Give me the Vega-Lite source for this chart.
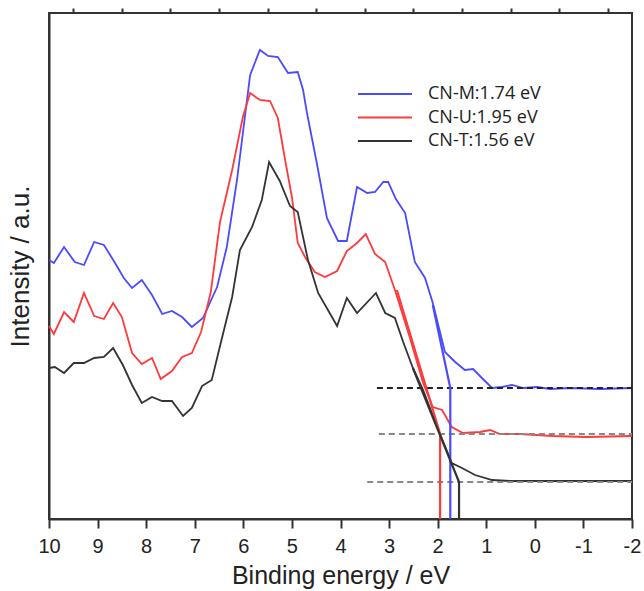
{
  "$schema": "https://vega.github.io/schema/vega-lite/v6.json",
  "width": 583,
  "height": 506,
  "autosize": {"type": "none"},
  "padding": {"left": 49, "top": 13, "right": 12, "bottom": 72},
  "background": "white",
  "config": {
    "view": {"stroke": "#333", "strokeWidth": 2},
    "axis": {
      "domainColor": "#333", "domainWidth": 2, "tickColor": "#333", "tickWidth": 2,
      "grid": false, "labelFont": "Liberation Sans", "titleFont": "Liberation Sans",
      "labelColor": "#222", "titleColor": "#222", "titleFontWeight": "normal"
    }
  },
  "datasets": {
    "spectra": [
      {"s": "CN-M:1.74 eV", "E": 10.0, "I": 259}, {"s": "CN-M:1.74 eV", "E": 9.90, "I": 256}, {"s": "CN-M:1.74 eV", "E": 9.69, "I": 272}, {"s": "CN-M:1.74 eV", "E": 9.47, "I": 257}, {"s": "CN-M:1.74 eV", "E": 9.28, "I": 254}, {"s": "CN-M:1.74 eV", "E": 9.07, "I": 277}, {"s": "CN-M:1.74 eV", "E": 8.87, "I": 274}, {"s": "CN-M:1.74 eV", "E": 8.64, "I": 256}, {"s": "CN-M:1.74 eV", "E": 8.46, "I": 241}, {"s": "CN-M:1.74 eV", "E": 8.29, "I": 231}, {"s": "CN-M:1.74 eV", "E": 8.09, "I": 239}, {"s": "CN-M:1.74 eV", "E": 7.88, "I": 224}, {"s": "CN-M:1.74 eV", "E": 7.67, "I": 205}, {"s": "CN-M:1.74 eV", "E": 7.47, "I": 208}, {"s": "CN-M:1.74 eV", "E": 7.26, "I": 202}, {"s": "CN-M:1.74 eV", "E": 7.06, "I": 192}, {"s": "CN-M:1.74 eV", "E": 6.83, "I": 201}, {"s": "CN-M:1.74 eV", "E": 6.54, "I": 232}, {"s": "CN-M:1.74 eV", "E": 6.34, "I": 272}, {"s": "CN-M:1.74 eV", "E": 6.13, "I": 339}, {"s": "CN-M:1.74 eV", "E": 5.86, "I": 444}, {"s": "CN-M:1.74 eV", "E": 5.66, "I": 469}, {"s": "CN-M:1.74 eV", "E": 5.49, "I": 463}, {"s": "CN-M:1.74 eV", "E": 5.29, "I": 462}, {"s": "CN-M:1.74 eV", "E": 5.08, "I": 446}, {"s": "CN-M:1.74 eV", "E": 4.88, "I": 447}, {"s": "CN-M:1.74 eV", "E": 4.77, "I": 429}, {"s": "CN-M:1.74 eV", "E": 4.69, "I": 406}, {"s": "CN-M:1.74 eV", "E": 4.48, "I": 354}, {"s": "CN-M:1.74 eV", "E": 4.28, "I": 301}, {"s": "CN-M:1.74 eV", "E": 4.05, "I": 278}, {"s": "CN-M:1.74 eV", "E": 3.87, "I": 278}, {"s": "CN-M:1.74 eV", "E": 3.66, "I": 332}, {"s": "CN-M:1.74 eV", "E": 3.45, "I": 326}, {"s": "CN-M:1.74 eV", "E": 3.29, "I": 327}, {"s": "CN-M:1.74 eV", "E": 3.12, "I": 337}, {"s": "CN-M:1.74 eV", "E": 3.02, "I": 337}, {"s": "CN-M:1.74 eV", "E": 2.86, "I": 320}, {"s": "CN-M:1.74 eV", "E": 2.67, "I": 306}, {"s": "CN-M:1.74 eV", "E": 2.47, "I": 257}, {"s": "CN-M:1.74 eV", "E": 2.26, "I": 241}, {"s": "CN-M:1.74 eV", "E": 2.10, "I": 216}, {"s": "CN-M:1.74 eV", "E": 1.85, "I": 167}, {"s": "CN-M:1.74 eV", "E": 1.64, "I": 157}, {"s": "CN-M:1.74 eV", "E": 1.44, "I": 149}, {"s": "CN-M:1.74 eV", "E": 1.27, "I": 150}, {"s": "CN-M:1.74 eV", "E": 1.09, "I": 141}, {"s": "CN-M:1.74 eV", "E": 0.88, "I": 131}, {"s": "CN-M:1.74 eV", "E": 0.68, "I": 132}, {"s": "CN-M:1.74 eV", "E": 0.47, "I": 134}, {"s": "CN-M:1.74 eV", "E": 0.24, "I": 131}, {"s": "CN-M:1.74 eV", "E": -0.05, "I": 132}, {"s": "CN-M:1.74 eV", "E": -0.31, "I": 130}, {"s": "CN-M:1.74 eV", "E": -0.72, "I": 131}, {"s": "CN-M:1.74 eV", "E": -1.34, "I": 130}, {"s": "CN-M:1.74 eV", "E": -2.0, "I": 131},
      {"s": "CN-U:1.95 eV", "E": 10.0, "I": 193}, {"s": "CN-U:1.95 eV", "E": 9.90, "I": 185}, {"s": "CN-U:1.95 eV", "E": 9.69, "I": 207}, {"s": "CN-U:1.95 eV", "E": 9.49, "I": 197}, {"s": "CN-U:1.95 eV", "E": 9.28, "I": 226}, {"s": "CN-U:1.95 eV", "E": 9.07, "I": 203}, {"s": "CN-U:1.95 eV", "E": 8.87, "I": 200}, {"s": "CN-U:1.95 eV", "E": 8.68, "I": 216}, {"s": "CN-U:1.95 eV", "E": 8.50, "I": 202}, {"s": "CN-U:1.95 eV", "E": 8.29, "I": 166}, {"s": "CN-U:1.95 eV", "E": 8.09, "I": 155}, {"s": "CN-U:1.95 eV", "E": 7.88, "I": 161}, {"s": "CN-U:1.95 eV", "E": 7.70, "I": 140}, {"s": "CN-U:1.95 eV", "E": 7.47, "I": 148}, {"s": "CN-U:1.95 eV", "E": 7.26, "I": 162}, {"s": "CN-U:1.95 eV", "E": 7.06, "I": 166}, {"s": "CN-U:1.95 eV", "E": 6.87, "I": 187}, {"s": "CN-U:1.95 eV", "E": 6.67, "I": 227}, {"s": "CN-U:1.95 eV", "E": 6.48, "I": 297}, {"s": "CN-U:1.95 eV", "E": 6.23, "I": 349}, {"s": "CN-U:1.95 eV", "E": 6.01, "I": 402}, {"s": "CN-U:1.95 eV", "E": 5.86, "I": 426}, {"s": "CN-U:1.95 eV", "E": 5.66, "I": 419}, {"s": "CN-U:1.95 eV", "E": 5.45, "I": 418}, {"s": "CN-U:1.95 eV", "E": 5.29, "I": 401}, {"s": "CN-U:1.95 eV", "E": 5.14, "I": 359}, {"s": "CN-U:1.95 eV", "E": 5.00, "I": 322}, {"s": "CN-U:1.95 eV", "E": 4.88, "I": 276}, {"s": "CN-U:1.95 eV", "E": 4.73, "I": 262}, {"s": "CN-U:1.95 eV", "E": 4.53, "I": 247}, {"s": "CN-U:1.95 eV", "E": 4.32, "I": 242}, {"s": "CN-U:1.95 eV", "E": 4.07, "I": 248}, {"s": "CN-U:1.95 eV", "E": 3.87, "I": 268}, {"s": "CN-U:1.95 eV", "E": 3.66, "I": 276}, {"s": "CN-U:1.95 eV", "E": 3.48, "I": 285}, {"s": "CN-U:1.95 eV", "E": 3.29, "I": 265}, {"s": "CN-U:1.95 eV", "E": 3.08, "I": 257}, {"s": "CN-U:1.95 eV", "E": 2.88, "I": 229}, {"s": "CN-U:1.95 eV", "E": 2.57, "I": 181}, {"s": "CN-U:1.95 eV", "E": 2.30, "I": 136}, {"s": "CN-U:1.95 eV", "E": 2.10, "I": 112}, {"s": "CN-U:1.95 eV", "E": 1.91, "I": 109}, {"s": "CN-U:1.95 eV", "E": 1.71, "I": 92}, {"s": "CN-U:1.95 eV", "E": 1.48, "I": 86}, {"s": "CN-U:1.95 eV", "E": 1.13, "I": 87}, {"s": "CN-U:1.95 eV", "E": 0.92, "I": 89}, {"s": "CN-U:1.95 eV", "E": 0.72, "I": 85}, {"s": "CN-U:1.95 eV", "E": 0.31, "I": 85}, {"s": "CN-U:1.95 eV", "E": -0.37, "I": 83}, {"s": "CN-U:1.95 eV", "E": -1.07, "I": 82}, {"s": "CN-U:1.95 eV", "E": -2.0, "I": 83},
      {"s": "CN-T:1.56 eV", "E": 10.0, "I": 151}, {"s": "CN-T:1.56 eV", "E": 9.88, "I": 152}, {"s": "CN-T:1.56 eV", "E": 9.69, "I": 146}, {"s": "CN-T:1.56 eV", "E": 9.49, "I": 156}, {"s": "CN-T:1.56 eV", "E": 9.28, "I": 156}, {"s": "CN-T:1.56 eV", "E": 9.07, "I": 161}, {"s": "CN-T:1.56 eV", "E": 8.87, "I": 162}, {"s": "CN-T:1.56 eV", "E": 8.68, "I": 171}, {"s": "CN-T:1.56 eV", "E": 8.48, "I": 154}, {"s": "CN-T:1.56 eV", "E": 8.29, "I": 134}, {"s": "CN-T:1.56 eV", "E": 8.09, "I": 116}, {"s": "CN-T:1.56 eV", "E": 7.88, "I": 122}, {"s": "CN-T:1.56 eV", "E": 7.67, "I": 118}, {"s": "CN-T:1.56 eV", "E": 7.47, "I": 118}, {"s": "CN-T:1.56 eV", "E": 7.24, "I": 103}, {"s": "CN-T:1.56 eV", "E": 7.06, "I": 111}, {"s": "CN-T:1.56 eV", "E": 6.85, "I": 133}, {"s": "CN-T:1.56 eV", "E": 6.65, "I": 139}, {"s": "CN-T:1.56 eV", "E": 6.44, "I": 181}, {"s": "CN-T:1.56 eV", "E": 6.23, "I": 222}, {"s": "CN-T:1.56 eV", "E": 6.07, "I": 269}, {"s": "CN-T:1.56 eV", "E": 5.82, "I": 292}, {"s": "CN-T:1.56 eV", "E": 5.62, "I": 319}, {"s": "CN-T:1.56 eV", "E": 5.47, "I": 357}, {"s": "CN-T:1.56 eV", "E": 5.25, "I": 338}, {"s": "CN-T:1.56 eV", "E": 5.04, "I": 313}, {"s": "CN-T:1.56 eV", "E": 4.88, "I": 307}, {"s": "CN-T:1.56 eV", "E": 4.67, "I": 259}, {"s": "CN-T:1.56 eV", "E": 4.46, "I": 226}, {"s": "CN-T:1.56 eV", "E": 4.07, "I": 193}, {"s": "CN-T:1.56 eV", "E": 3.87, "I": 221}, {"s": "CN-T:1.56 eV", "E": 3.66, "I": 206}, {"s": "CN-T:1.56 eV", "E": 3.27, "I": 226}, {"s": "CN-T:1.56 eV", "E": 3.08, "I": 206}, {"s": "CN-T:1.56 eV", "E": 2.88, "I": 201}, {"s": "CN-T:1.56 eV", "E": 2.71, "I": 177}, {"s": "CN-T:1.56 eV", "E": 2.51, "I": 151}, {"s": "CN-T:1.56 eV", "E": 2.30, "I": 129}, {"s": "CN-T:1.56 eV", "E": 2.01, "I": 92}, {"s": "CN-T:1.56 eV", "E": 1.71, "I": 56}, {"s": "CN-T:1.56 eV", "E": 1.50, "I": 51}, {"s": "CN-T:1.56 eV", "E": 1.23, "I": 44}, {"s": "CN-T:1.56 eV", "E": 0.88, "I": 39}, {"s": "CN-T:1.56 eV", "E": 0.51, "I": 38}, {"s": "CN-T:1.56 eV", "E": -2.0, "I": 38}
    ],
    "fits": [
      {"s": "CN-M:1.74 eV", "k": 0, "E": 2.10, "I": 214}, {"s": "CN-M:1.74 eV", "k": 1, "E": 1.74, "I": 131}, {"s": "CN-M:1.74 eV", "k": 2, "E": 1.74, "I": 0},
      {"s": "CN-U:1.95 eV", "k": 0, "E": 2.84, "I": 229}, {"s": "CN-U:1.95 eV", "k": 1, "E": 1.95, "I": 85}, {"s": "CN-U:1.95 eV", "k": 2, "E": 1.95, "I": 0},
      {"s": "CN-T:1.56 eV", "k": 0, "E": 2.51, "I": 151}, {"s": "CN-T:1.56 eV", "k": 1, "E": 1.56, "I": 37}, {"s": "CN-T:1.56 eV", "k": 2, "E": 1.56, "I": 0}
    ],
    "baselines": [
      {"b": "M", "tone": "dark", "E": 3.25, "I": 131}, {"b": "M", "tone": "dark", "E": -2.0, "I": 131},
      {"b": "U", "tone": "gray", "E": 3.21, "I": 85}, {"b": "U", "tone": "gray", "E": -2.0, "I": 85},
      {"b": "T", "tone": "gray", "E": 3.45, "I": 37}, {"b": "T", "tone": "gray", "E": -2.0, "I": 37}
    ]
  },
  "layer": [
    {
      "data": {"name": "spectra"},
      "mark": {"type": "line", "strokeWidth": 1.8},
      "encoding": {
        "x": {"field": "E", "type": "quantitative", "scale": {"domain": [-2, 10], "reverse": true, "nice": false, "zero": false},
              "axis": {"values": [10, 9, 8, 7, 6, 5, 4, 3, 2, 1, 0, -1, -2], "tickSize": 9, "labelFontSize": 20, "labelPadding": 8, "labelFlush": false, "labelOverlap": false,
                       "labelExpr": "datum.value < 0 ? '-' + abs(datum.value) : '' + datum.value",
                       "title": "Binding energy / eV", "titleFontSize": 25, "titlePadding": 7}},
        "y": {"field": "I", "type": "quantitative", "scale": {"domain": [0, 506], "nice": false, "zero": false},
              "axis": {"ticks": false, "labels": false, "title": "Intensity / a.u.", "titleFontSize": 26, "titlePadding": 16}},
        "color": {"field": "s", "type": "nominal",
                  "scale": {"domain": ["CN-M:1.74 eV", "CN-U:1.95 eV", "CN-T:1.56 eV"], "range": ["#4a4aff", "#ff3a3a", "#333333"]},
                  "legend": {"orient": "none", "legendX": 327, "legendY": 72, "title": null, "symbolType": "M-5,0H5", "symbolSize": 117,
                             "symbolStrokeWidth": 2, "labelFont": "Open Sans", "labelFontSize": 18, "labelColor": "#222", "labelOffset": 34,
                             "rowPadding": 5.5, "padding": 0}}
      }
    },
    {
      "data": {"name": "baselines"},
      "mark": {"type": "line", "strokeWidth": 1.8, "strokeDash": [6, 4]},
      "encoding": {
        "x": {"field": "E", "type": "quantitative",
              "axis": {"values": [9.5, 8.5, 7.5, 6.5, 5.5, 4.5, 3.5, 2.5, 1.5, 0.5, -0.5, -1.5], "tickSize": 5, "labels": false, "domain": false, "title": null}},
        "y": {"field": "I", "type": "quantitative"},
        "detail": {"field": "b"},
        "stroke": {"field": "tone", "type": "nominal", "scale": {"domain": ["dark", "gray"], "range": ["#222222", "#888888"]}, "legend": null}
      }
    },
    {
      "data": {"name": "fits"},
      "mark": {"type": "line", "strokeWidth": 2.2},
      "encoding": {
        "x": {"field": "E", "type": "quantitative", "axis": null},
        "y": {"field": "I", "type": "quantitative"},
        "color": {"field": "s", "type": "nominal"},
        "order": {"field": "k"}
      }
    }
  ],
  "resolve": {"axis": {"x": "independent"}}
}
